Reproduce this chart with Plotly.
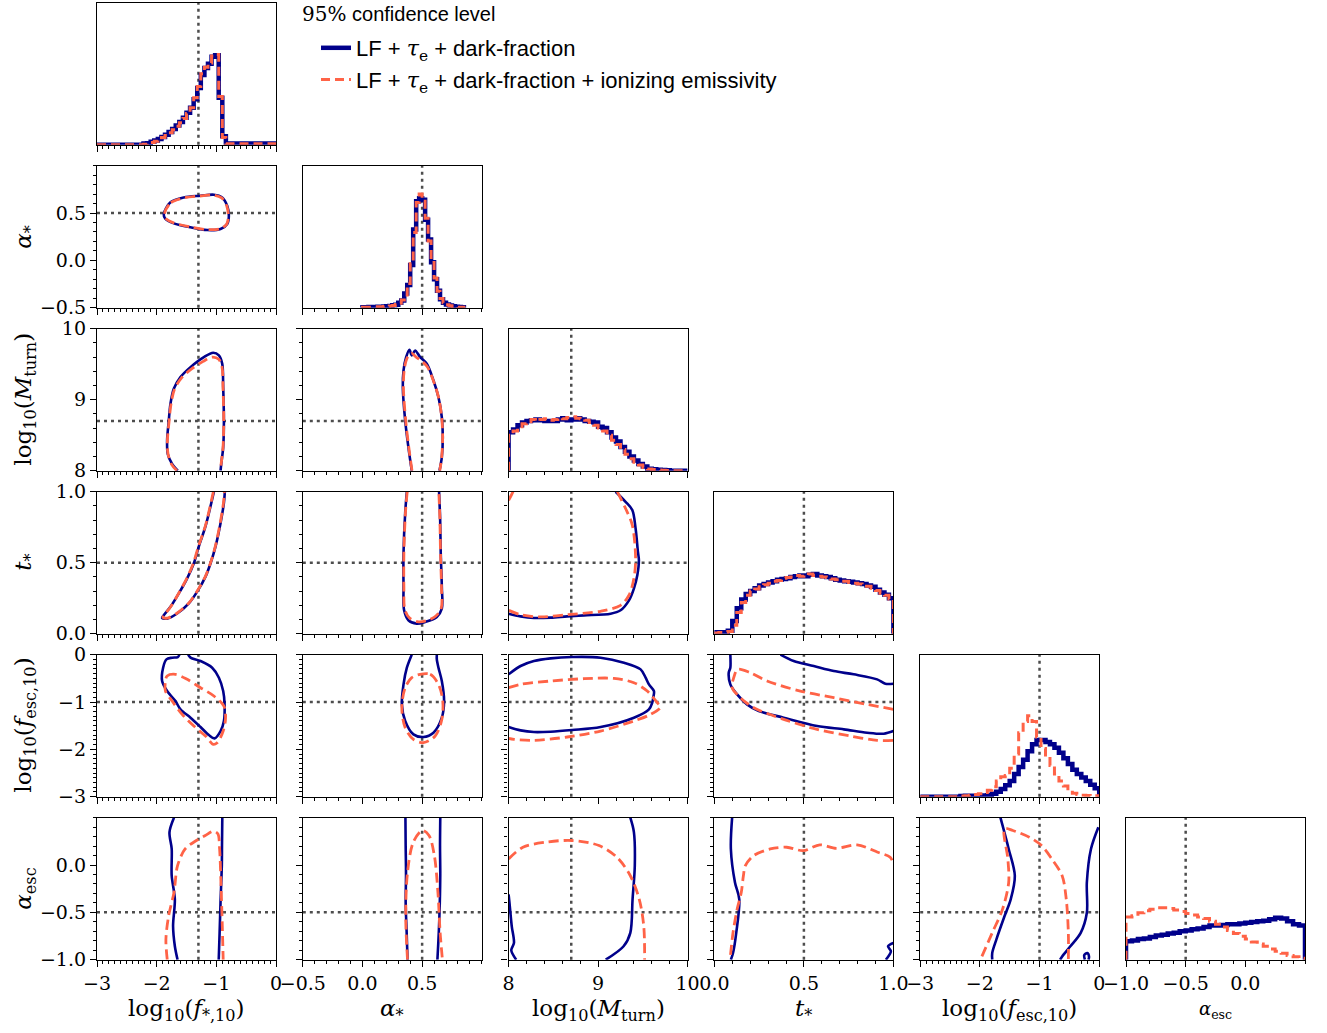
import numpy as np
import plotly.graph_objects as go

W, H = 1327, 1033

# ---------------- parameters / axes ----------------
labels = ['log<sub>10</sub>(<i>f</i><sub>*,10</sub>)', '<i>α</i><sub>*</sub>',
          'log<sub>10</sub>(<i>M</i><sub>turn</sub>)', '<i>t</i><sub>*</sub>',
          'log<sub>10</sub>(<i>f</i><sub>esc,10</sub>)', '<i>α</i><sub>esc</sub>']
ranges = [[-3, 0], [-0.5, 1.0], [8, 10], [0, 1], [-3, 0], [-1, 0.5]]
truth = [-1.3, 0.5, 8.7, 0.5, -1.0, -0.5]
major_ticks = [[-3, -2, -1, 0], [-0.5, 0.0, 0.5], [8, 9, 10], [0.0, 0.5, 1.0],
               [-3, -2, -1, 0], [-1.0, -0.5, 0.0]]
tick_formats = ['d', '.1f', 'd', '.1f', 'd', '.1f']
minor_step = [0.1, 0.1, 0.2, 0.1, 0.1, 0.1]

TAU = '<span style="font-family:DejaVu Serif"><i>τ</i><sub>e</sub></span>'
legend_names = ['LF + ' + TAU + ' + dark-fraction',
                'LF + ' + TAU + ' + dark-fraction + ionizing emissivity']
legend_title = '<span style="font-family:DejaVu Serif">95%</span> confidence level'

# ---------------- 1D histograms (fraction of panel height) ----------------
hist_start = [-3.0, 0.0, 8.0, 0.0, -3.0, -1.0]
hist_width = [0.06, 0.025, 0.05, 0.025, 0.075, 0.05]

fstar_blue = [0]*13 + [0.008, 0.01, 0.02, 0.03, 0.04, 0.055, 0.07, 0.09, 0.11, 0.135, 0.16, 0.19,
                       0.225, 0.26, 0.32, 0.40, 0.49, 0.54, 0.57, 0.62, 0.63, 0.33, 0.06] + [0.008]*14
fstar_red = [0]*13 + [0.004, 0.008, 0.015, 0.025, 0.035, 0.05, 0.065, 0.085, 0.105, 0.13, 0.155, 0.185,
                      0.22, 0.26, 0.33, 0.41, 0.50, 0.545, 0.575, 0.625, 0.635, 0.34, 0.05] + [0.006]*14

astar_blue = [0.004, 0.004, 0.005, 0.005, 0.005, 0.006, 0.007, 0.008,
              0.01, 0.012, 0.018, 0.02, 0.035, 0.05, 0.1, 0.16, 0.3, 0.55, 0.75, 0.77, 0.76, 0.62,
              0.48, 0.32, 0.2, 0.12, 0.06, 0.035, 0.022, 0.015, 0.01, 0.007, 0.005, 0.003]
astar_red = [0.003, 0.004, 0.004, 0.005, 0.005, 0.006, 0.006, 0.008,
             0.009, 0.012, 0.016, 0.022, 0.032, 0.055, 0.09, 0.17, 0.31, 0.53, 0.74, 0.80, 0.75, 0.63,
             0.47, 0.33, 0.21, 0.115, 0.065, 0.035, 0.02, 0.014, 0.009, 0.006, 0.004, 0.003]

mturn_blue = [0.27, 0.29, 0.32, 0.34, 0.35, 0.355, 0.36, 0.355, 0.35, 0.35, 0.35, 0.36, 0.37, 0.355,
              0.36, 0.37, 0.36, 0.35, 0.345, 0.34, 0.31, 0.30, 0.27, 0.233, 0.205, 0.167, 0.133, 0.10,
              0.071, 0.048, 0.029, 0.014, 0.01, 0.007, 0.005, 0.003, 0, 0, 0, 0]
mturn_red = [0.25, 0.28, 0.31, 0.33, 0.345, 0.36, 0.35, 0.36, 0.365, 0.355, 0.36, 0.37, 0.365, 0.375,
             0.38, 0.37, 0.365, 0.355, 0.34, 0.32, 0.30, 0.28, 0.25, 0.215, 0.185, 0.15, 0.115, 0.085,
             0.06, 0.04, 0.022, 0.012, 0.008, 0.005, 0.003, 0.002, 0, 0, 0, 0]

tstar_blue = [0.01, 0.01, 0.01, 0.02, 0.09, 0.18, 0.24, 0.28, 0.30, 0.32, 0.34, 0.35, 0.36, 0.37,
              0.38, 0.385, 0.39, 0.40, 0.405, 0.41, 0.405, 0.415, 0.42, 0.41, 0.405, 0.40, 0.39, 0.38,
              0.375, 0.37, 0.365, 0.36, 0.355, 0.35, 0.34, 0.33, 0.31, 0.29, 0.275, 0.25]
tstar_red = [0.005, 0.008, 0.01, 0.015, 0.06, 0.15, 0.22, 0.27, 0.30, 0.315, 0.33, 0.345, 0.355, 0.37,
             0.375, 0.39, 0.395, 0.40, 0.41, 0.405, 0.41, 0.42, 0.41, 0.405, 0.40, 0.395, 0.385, 0.38,
             0.37, 0.37, 0.36, 0.355, 0.35, 0.345, 0.335, 0.32, 0.305, 0.285, 0.27, 0.245]

fesc_blue = [0]*9 + [0.005, 0.007, 0.007, 0.007, 0.007, 0.008, 0.01, 0.02, 0.035, 0.055, 0.08, 0.11,
                     0.16, 0.21, 0.26, 0.32, 0.37, 0.40, 0.40, 0.385, 0.37, 0.345, 0.31, 0.27, 0.23,
                     0.19, 0.16, 0.135, 0.11, 0.085, 0.06]
fesc_red = [0]*9 + [0.005, 0.007, 0.01, 0.015, 0.02, 0.03, 0.045, 0.07, 0.11, 0.14, 0.15, 0.2,
                    0.3, 0.45, 0.53, 0.57, 0.53, 0.42, 0.34, 0.28, 0.22, 0.16, 0.11, 0.075, 0.045,
                    0.025, 0.015, 0.01, 0.008, 0.007, 0.007]

aesc_blue = [0.13, 0.135, 0.145, 0.15, 0.16, 0.17, 0.175, 0.185, 0.19, 0.2, 0.205, 0.215, 0.22, 0.23,
             0.24, 0.24, 0.245, 0.25, 0.25, 0.255, 0.26, 0.265, 0.27, 0.275, 0.285, 0.295, 0.29, 0.27,
             0.25, 0.24]
aesc_red = [0.3, 0.31, 0.33, 0.345, 0.355, 0.365, 0.365, 0.36, 0.35, 0.34, 0.325, 0.315, 0.3, 0.29,
            0.27, 0.25, 0.23, 0.205, 0.185, 0.165, 0.145, 0.125, 0.11, 0.095, 0.075, 0.06, 0.045, 0.03,
            0.02, 0.01]

hist_blue = [fstar_blue, astar_blue, mturn_blue, tstar_blue, fesc_blue, aesc_blue]
hist_red = [fstar_red, astar_red, mturn_red, tstar_red, fesc_red, aesc_red]

# ---------------- 95% contours (data units: (x, y)) ----------------
astar_fstar_blue = [(-1.881, 0.489), (-1.769, 0.613), (-1.545, 0.665), (-1.265, 0.683), (-1.041, 0.694),
                    (-0.902, 0.665), (-0.818, 0.577), (-0.79, 0.472), (-0.818, 0.384), (-0.93, 0.331),
                    (-1.153, 0.320), (-1.433, 0.349), (-1.713, 0.391), (-1.853, 0.437)]
astar_fstar_red = [(-1.87, 0.49), (-1.76, 0.61), (-1.54, 0.66), (-1.27, 0.68), (-1.05, 0.69), (-0.91, 0.66),
                   (-0.825, 0.575), (-0.80, 0.47), (-0.825, 0.385), (-0.935, 0.335), (-1.15, 0.325),
                   (-1.43, 0.352), (-1.71, 0.395), (-1.845, 0.44)]

mturn_fstar_blue = [(-1.646, 8.0), (-1.741, 8.094), (-1.814, 8.235), (-1.825, 8.424), (-1.797, 8.706),
                    (-1.769, 8.941), (-1.713, 9.153), (-1.601, 9.318), (-1.433, 9.459), (-1.209, 9.6),
                    (-1.053, 9.661), (-0.957, 9.624), (-0.901, 9.506), (-0.885, 9.176), (-0.873, 8.706),
                    (-0.885, 8.329), (-0.918, 8.094), (-0.929, 8.0)]
mturn_fstar_red = [(-1.66, 8.0), (-1.75, 8.09), (-1.81, 8.24), (-1.82, 8.42), (-1.79, 8.71), (-1.76, 8.94),
                   (-1.70, 9.15), (-1.58, 9.31), (-1.42, 9.43), (-1.22, 9.54), (-1.07, 9.60), (-0.96, 9.57),
                   (-0.905, 9.46), (-0.888, 9.17), (-0.876, 8.71), (-0.888, 8.33), (-0.92, 8.09), (-0.93, 8.0)]

tstar_fstar_blue = [(-1.041, 1.0), (-1.181, 0.757), (-1.293, 0.615), (-1.377, 0.496), (-1.489, 0.39),
                    (-1.629, 0.284), (-1.769, 0.189), (-1.881, 0.13), (-1.909, 0.111), (-1.825, 0.106),
                    (-1.657, 0.142), (-1.461, 0.213), (-1.321, 0.296), (-1.181, 0.402), (-1.097, 0.496),
                    (-1.013, 0.615), (-0.929, 0.78), (-0.873, 0.922), (-0.857, 1.0)]
tstar_fstar_red = [(-1.05, 1.0), (-1.185, 0.757), (-1.30, 0.615), (-1.385, 0.496), (-1.495, 0.39),
                   (-1.63, 0.285), (-1.765, 0.19), (-1.87, 0.132), (-1.895, 0.115), (-1.82, 0.11),
                   (-1.655, 0.146), (-1.46, 0.217), (-1.325, 0.298), (-1.185, 0.402), (-1.10, 0.496),
                   (-1.017, 0.615), (-0.935, 0.78), (-0.88, 0.922), (-0.865, 1.0)]

mturn_astar_blue = [(0.413, 8.0), (0.385, 8.329), (0.358, 8.706), (0.338, 9.176), (0.344, 9.412),
                    (0.366, 9.6), (0.394, 9.704), (0.413, 9.624), (0.441, 9.694), (0.483, 9.6),
                    (0.539, 9.506), (0.595, 9.271), (0.637, 9.035), (0.665, 8.753), (0.673, 8.471),
                    (0.665, 8.188), (0.645, 8.0)]
mturn_astar_red = [(0.415, 8.0), (0.388, 8.33), (0.362, 8.71), (0.343, 9.18), (0.35, 9.42), (0.372, 9.58),
                   (0.41, 9.655), (0.45, 9.6), (0.50, 9.54), (0.545, 9.46), (0.598, 9.25), (0.638, 9.03),
                   (0.664, 8.75), (0.672, 8.47), (0.664, 8.19), (0.648, 8.0)]

tstar_astar_blue = [(0.372, 1.0), (0.358, 0.851), (0.344, 0.567), (0.344, 0.331), (0.349, 0.165),
                    (0.385, 0.095), (0.455, 0.071), (0.525, 0.083), (0.623, 0.118), (0.665, 0.177),
                    (0.665, 0.331), (0.656, 0.567), (0.651, 0.804), (0.642, 1.0)]
tstar_astar_red = [(0.375, 1.0), (0.36, 0.85), (0.347, 0.567), (0.347, 0.331), (0.355, 0.17), (0.395, 0.11),
                   (0.46, 0.085), (0.53, 0.09), (0.615, 0.125), (0.66, 0.18), (0.662, 0.331),
                   (0.654, 0.567), (0.649, 0.804), (0.64, 1.0)]

tstar_mturn_blue = [(9.196, 1.0), (9.307, 0.929), (9.382, 0.871), (9.419, 0.741), (9.445, 0.576),
                    (9.456, 0.518), (9.438, 0.412), (9.4, 0.318), (9.345, 0.235), (9.251, 0.165),
                    (9.14, 0.141), (8.842, 0.129), (8.656, 0.122), (8.469, 0.113), (8.283, 0.111),
                    (8.134, 0.122), (8.0, 0.141)]
tstar_mturn_red = [(9.214, 1.0), (9.307, 0.882), (9.382, 0.765), (9.419, 0.529), (9.4, 0.388),
                   (9.345, 0.271), (9.251, 0.2), (9.028, 0.158), (8.656, 0.134), (8.358, 0.118),
                   (8.134, 0.134), (8.0, 0.165)]
tstar_mturn_red_corner = [(8.0, 0.94), (8.03, 0.975), (8.05, 1.0)]

fesc_fstar_blue = [(-1.472, 0.0), (-1.433, -0.063), (-1.265, -0.134), (-1.07, -0.275), (-0.957, -0.486),
                   (-0.885, -0.768), (-0.862, -1.049), (-0.873, -1.401), (-0.929, -1.613), (-1.03, -1.768),
                   (-1.125, -1.697), (-1.265, -1.528), (-1.433, -1.331), (-1.601, -1.155),
                   (-1.685, -0.979), (-1.825, -0.768), (-1.909, -0.556), (-1.892, -0.275),
                   (-1.836, -0.099), (-1.741, -0.063), (-1.646, -0.049), (-1.618, 0.0)]
fesc_fstar_red = [(-1.853, -0.556), (-1.825, -0.451), (-1.685, -0.415), (-1.489, -0.521), (-1.265, -0.697),
                  (-1.041, -0.873), (-0.873, -1.085), (-0.845, -1.331), (-0.885, -1.613), (-0.985, -1.859),
                  (-1.053, -1.894), (-1.181, -1.718), (-1.377, -1.507), (-1.573, -1.261),
                  (-1.741, -0.979), (-1.853, -0.768)]

fesc_astar_blue = [(0.413, 0.0), (0.372, -0.275), (0.344, -0.627), (0.33, -1.049), (0.358, -1.401),
                   (0.427, -1.683), (0.511, -1.739), (0.595, -1.648), (0.665, -1.331), (0.684, -0.979),
                   (0.665, -0.556), (0.637, -0.275), (0.623, -0.099), (0.623, 0.0)]
fesc_astar_red = [(0.483, -0.415), (0.567, -0.415), (0.637, -0.627), (0.673, -0.979), (0.665, -1.366),
                  (0.609, -1.718), (0.511, -1.859), (0.427, -1.789), (0.358, -1.542), (0.33, -1.12),
                  (0.358, -0.697), (0.413, -0.486)]

fesc_mturn_blue = [(8.0, -0.415), (8.134, -0.239), (8.283, -0.134), (8.469, -0.077), (8.711, -0.049),
                   (9.028, -0.063), (9.289, -0.169), (9.475, -0.31), (9.531, -0.486), (9.568, -0.627),
                   (9.624, -0.768), (9.616, -0.908), (9.605, -1.014), (9.568, -1.155), (9.4, -1.331),
                   (9.028, -1.528), (8.711, -1.592), (8.469, -1.627), (8.283, -1.634), (8.134, -1.599),
                   (8.0, -1.528)]
fesc_mturn_red = [(8.0, -0.697), (8.134, -0.627), (8.469, -0.556), (8.842, -0.507), (9.177, -0.5),
                  (9.4, -0.592), (9.549, -0.768), (9.661, -1.014), (9.698, -1.106), (9.587, -1.261),
                  (9.4, -1.401), (9.028, -1.613), (8.656, -1.739), (8.283, -1.81), (8.06, -1.789),
                  (8.0, -1.768)]

fesc_tstar_blue_upper = [(0.369, 0.0), (0.443, -0.134), (0.555, -0.239), (0.667, -0.345), (0.778, -0.415),
                         (0.909, -0.521), (0.955, -0.613), (1.0, -0.613)]
fesc_tstar_blue_lower = [(0.089, 0.0), (0.089, -0.275), (0.08, -0.38), (0.089, -0.627), (0.127, -0.838),
                         (0.182, -1.049), (0.248, -1.19), (0.387, -1.331), (0.574, -1.507), (0.723, -1.577),
                         (0.853, -1.648), (0.946, -1.669), (1.0, -1.613)]
fesc_tstar_red = [(1.0, -1.155), (0.853, -1.049), (0.667, -0.908), (0.48, -0.768), (0.294, -0.556),
                  (0.201, -0.38), (0.13, -0.31), (0.108, -0.486), (0.099, -0.697), (0.145, -0.908),
                  (0.22, -1.12), (0.387, -1.366), (0.574, -1.577), (0.76, -1.718), (0.909, -1.81),
                  (1.0, -1.81)]

aesc_fstar_blue_left = [(-1.71, 0.5), (-1.785, 0.348), (-1.748, 0.17), (-1.748, -0.113), (-1.695, -0.362),
                        (-1.725, -0.645), (-1.695, -0.858), (-1.65, -1.0)]
aesc_fstar_blue_right = [(-0.9, 0.5), (-0.905, 0.2), (-0.908, -0.007), (-0.93, -0.4), (-0.945, -0.716),
                         (-0.96, -1.0)]
aesc_fstar_red = [(-1.823, -1.0), (-1.845, -0.787), (-1.8, -0.539), (-1.71, -0.29), (-1.65, -0.007),
                  (-1.523, 0.17), (-1.335, 0.259), (-1.185, 0.312), (-1.05, 0.358), (-0.975, 0.33),
                  (-0.945, 0.17), (-0.923, -0.184), (-0.9, -0.645), (-0.885, -1.0)]

aesc_astar_blue_left = [(0.36, 0.5), (0.362, 0.2), (0.365, -0.1), (0.362, -0.4), (0.37, -0.7), (0.378, -1.0)]
aesc_astar_blue_right = [(0.652, 0.5), (0.65, 0.2), (0.652, -0.1), (0.648, -0.4), (0.64, -0.7), (0.628, -1.0)]
aesc_astar_red = [(0.3775, -1.0), (0.3625, -0.539), (0.3775, -0.078), (0.426, 0.241), (0.501, 0.365),
                  (0.5575, 0.312), (0.6025, 0.099), (0.6325, -0.291), (0.651, -0.716), (0.67, -1.0)]

aesc_mturn_blue_right = [(9.36, 0.5), (9.4, 0.348), (9.41, -0.007), (9.385, -0.362), (9.36, -0.716),
                         (9.285, -0.858), (9.085, -1.0)]
aesc_mturn_blue_left = [(8.0, -0.31), (8.01, -0.4), (8.035, -0.645), (8.06, -0.823), (8.03, -0.9),
                        (8.085, -1.0)]
aesc_mturn_red = [(8.0, 0.064), (8.16, 0.188), (8.41, 0.241), (8.71, 0.259), (9.01, 0.206), (9.21, 0.082),
                  (9.36, -0.113), (9.46, -0.362), (9.51, -0.645), (9.52, -1.0)]

aesc_tstar_blue_left = [(0.099, 0.5), (0.092, 0.17), (0.115, -0.184), (0.139, -0.362), (0.122, -0.716),
                        (0.104, -0.929), (0.092, -1.0)]
aesc_tstar_blue_corner = [(1.0, -0.823), (0.97, -0.858), (0.986, -0.911), (0.958, -1.0)]
aesc_tstar_red = [(0.09, -0.95), (0.104, -0.716), (0.127, -0.468), (0.15, -0.291), (0.162, -0.113),
                  (0.173, -0.007), (0.219, 0.099), (0.312, 0.17), (0.404, 0.188), (0.497, 0.152),
                  (0.589, 0.213), (0.681, 0.177), (0.797, 0.213), (0.912, 0.135), (0.982, 0.082),
                  (1.0, 0.01)]

aesc_fesc_blue_left = [(-1.655, 0.5), (-1.517, 0.17), (-1.414, -0.113), (-1.483, -0.362), (-1.586, -0.539),
                       (-1.724, -0.787), (-1.793, -0.929), (-1.793, -1.0)]
aesc_fesc_blue_right = [(-0.014, 0.4), (-0.138, 0.17), (-0.207, -0.184), (-0.207, -0.504), (-0.31, -0.716),
                        (-0.483, -0.858), (-0.621, -0.965), (-0.655, -1.0)]
aesc_fesc_blue_loop = [(-0.24, -1.0), (-0.25, -0.95), (-0.2, -0.93), (-0.17, -0.97), (-0.18, -1.0)]
aesc_fesc_red = [(-1.966, -0.965), (-1.793, -0.716), (-1.621, -0.468), (-1.517, -0.184), (-1.531, 0.064),
                 (-1.586, 0.383), (-1.448, 0.365), (-1.172, 0.294), (-0.966, 0.206), (-0.793, 0.064),
                 (-0.621, -0.113), (-0.552, -0.362), (-0.517, -0.716), (-0.517, -1.0)]

# (row, col) -> list of (curve, closed)
contours_blue = {
    (1, 0): [(astar_fstar_blue, True)],
    (2, 0): [(mturn_fstar_blue, False)], (2, 1): [(mturn_astar_blue, False)],
    (3, 0): [(tstar_fstar_blue, False)], (3, 1): [(tstar_astar_blue, False)],
    (3, 2): [(tstar_mturn_blue, False)],
    (4, 0): [(fesc_fstar_blue, False)], (4, 1): [(fesc_astar_blue, False)],
    (4, 2): [(fesc_mturn_blue, False)],
    (4, 3): [(fesc_tstar_blue_upper, False), (fesc_tstar_blue_lower, False)],
    (5, 0): [(aesc_fstar_blue_left, False), (aesc_fstar_blue_right, False)],
    (5, 1): [(aesc_astar_blue_left, False), (aesc_astar_blue_right, False)],
    (5, 2): [(aesc_mturn_blue_right, False), (aesc_mturn_blue_left, False)],
    (5, 3): [(aesc_tstar_blue_left, False), (aesc_tstar_blue_corner, False)],
    (5, 4): [(aesc_fesc_blue_left, False), (aesc_fesc_blue_right, False), (aesc_fesc_blue_loop, False)],
}
contours_red = {
    (1, 0): [(astar_fstar_red, True)],
    (2, 0): [(mturn_fstar_red, False)], (2, 1): [(mturn_astar_red, False)],
    (3, 0): [(tstar_fstar_red, False)], (3, 1): [(tstar_astar_red, False)],
    (3, 2): [(tstar_mturn_red, False), (tstar_mturn_red_corner, False)],
    (4, 0): [(fesc_fstar_red, True)], (4, 1): [(fesc_astar_red, True)],
    (4, 2): [(fesc_mturn_red, False)],
    (4, 3): [(fesc_tstar_red, False)],
    (5, 0): [(aesc_fstar_red, False)], (5, 1): [(aesc_astar_red, False)],
    (5, 2): [(aesc_mturn_red, False)], (5, 3): [(aesc_tstar_red, False)],
    (5, 4): [(aesc_fesc_red, False)],
}

# ---------------- styling ----------------
BLUE = '#00008B'
RED = '#FF6347'
TRUTH_COLOR = '#4d4d4d'
SERIF = 'DejaVu Serif'
SANS = 'Liberation Sans'

COL_LEFT0, COL_STEP, PW = 97.0, 205.8, 179.0
ROW_TOP0, ROW_STEP, PH = 2.7, 163.0, 142.0

fig = go.Figure()
layout = dict(width=W, height=H, margin=dict(l=0, r=0, t=0, b=0, pad=0, autoexpand=False),
              paper_bgcolor='white', plot_bgcolor='white', showlegend=True)
shapes = []
annotations = []

def hist_xy(start, width, heights):
    edges = start + width * np.arange(len(heights) + 1)
    x = np.concatenate([[edges[0]], edges[:-1], [edges[-1]]])
    y = np.concatenate([[0.0], np.asarray(heights, float), [0.0]])
    return x, y

def axis_common(p, show_labels):
    lo, hi = ranges[p]
    minor_vals = list(np.round(np.arange(lo, hi + 1e-9, minor_step[p]), 6))
    return dict(range=ranges[p], tickmode='array', tickvals=major_ticks[p],
                tickformat=tick_formats[p], showticklabels=show_labels,
                ticks='outside', ticklen=6, tickwidth=1.3, tickcolor='black',
                minor=dict(tickmode='array', tickvals=minor_vals, ticks='outside', ticklen=3,
                           tickwidth=1, tickcolor='black', showgrid=False),
                showline=True, linecolor='black', linewidth=1.3, mirror=True,
                showgrid=False, zeroline=False, automargin=False,
                tickfont=dict(family=SERIF, size=19, color='black'))

n = 0
legend_done = False
for i in range(6):
    for j in range(i + 1):
        n += 1
        sfx = '' if n == 1 else str(n)
        xa, ya = 'x' + sfx, 'y' + sfx
        x0 = COL_LEFT0 + j * COL_STEP
        y0 = ROW_TOP0 + i * ROW_STEP
        xdom = [x0 / W, (x0 + PW) / W]
        ydom = [1 - (y0 + PH) / H, 1 - y0 / H]
        xax = axis_common(j, i == 5)
        xax.update(domain=xdom, anchor=ya)
        if i == j:
            yax = dict(domain=ydom, anchor=xa, range=[0, 1], showticklabels=False, ticks='',
                       showline=True, linecolor='black', linewidth=1.3, mirror=True,
                       showgrid=False, zeroline=False, automargin=False)
        else:
            yax = axis_common(i, j == 0)
            yax.update(domain=ydom, anchor=xa)
        layout['xaxis' + sfx] = xax
        layout['yaxis' + sfx] = yax

        # truth lines
        shapes.append(dict(type='line', xref=xa, yref=ya + ' domain', x0=truth[j], x1=truth[j],
                           y0=0, y1=1, layer='below',
                           line=dict(color=TRUTH_COLOR, width=2.5, dash='3px,4px')))
        if i != j:
            shapes.append(dict(type='line', xref=xa + ' domain', yref=ya, x0=0, x1=1,
                               y0=truth[i], y1=truth[i], layer='below',
                               line=dict(color=TRUTH_COLOR, width=2.5, dash='3px,4px')))

        if i == j:
            hx, hy = hist_xy(hist_start[i], hist_width[i], hist_blue[i])
            fig.add_trace(go.Scatter(x=hx, y=hy, mode='lines', line=dict(color=BLUE, width=4.5, shape='hv'),
                                     xaxis=xa, yaxis=ya, name=legend_names[0], legendgroup='blue',
                                     showlegend=not legend_done, hoverinfo='skip'))
            hx, hy = hist_xy(hist_start[i], hist_width[i], hist_red[i])
            fig.add_trace(go.Scatter(x=hx, y=hy, mode='lines',
                                     line=dict(color=RED, width=3, shape='hv', dash='9px,5px'),
                                     xaxis=xa, yaxis=ya, name=legend_names[1], legendgroup='red',
                                     showlegend=not legend_done, hoverinfo='skip'))
            legend_done = True
        else:
            for col, dset, dash, wid, grp in [(BLUE, contours_blue, 'solid', 2.6, 'blue'),
                                               (RED, contours_red, '10px,5px', 2.8, 'red')]:
                for curve, closed in dset.get((i, j), []):
                    pts = list(curve) + ([curve[0]] if closed else [])
                    cx = [p[0] for p in pts]
                    cy = [p[1] for p in pts]
                    fig.add_trace(go.Scatter(x=cx, y=cy, mode='lines',
                                             line=dict(color=col, width=wid, dash=dash,
                                                       shape='spline', smoothing=0.9),
                                             xaxis=xa, yaxis=ya, legendgroup=grp,
                                             showlegend=False, hoverinfo='skip'))

# axis titles
for j in range(6):
    cx = (COL_LEFT0 + j * COL_STEP + PW / 2) / W
    annotations.append(dict(text=labels[j], xref='paper', yref='paper', x=cx, y=1 - 1010 / H,
                            xanchor='center', yanchor='middle', showarrow=False,
                            font=dict(family=SERIF, size=(18 if j == 5 else 23), color='black')))
for i in range(1, 6):
    cy = 1 - (ROW_TOP0 + i * ROW_STEP + PH / 2) / H
    annotations.append(dict(text=labels[i], xref='paper', yref='paper', x=25 / W, y=cy,
                            xanchor='center', yanchor='middle', showarrow=False, textangle=-90,
                            font=dict(family=SERIF, size=23, color='black')))
# legend heading
annotations.append(dict(text=legend_title, xref='paper', yref='paper', x=300 / W, y=1 - 14 / H,
                        xanchor='left', yanchor='middle', showarrow=False,
                        font=dict(family=SANS, size=20, color='black')))

layout['shapes'] = shapes
layout['annotations'] = annotations
layout['legend'] = dict(x=316 / W, y=1 - 27 / H, xanchor='left', yanchor='top',
                        bgcolor='rgba(0,0,0,0)', borderwidth=0, tracegroupgap=0,
                        font=dict(family=SANS, size=22, color='black'))
fig.update_layout(**layout)
fig.write_html('out.html')
